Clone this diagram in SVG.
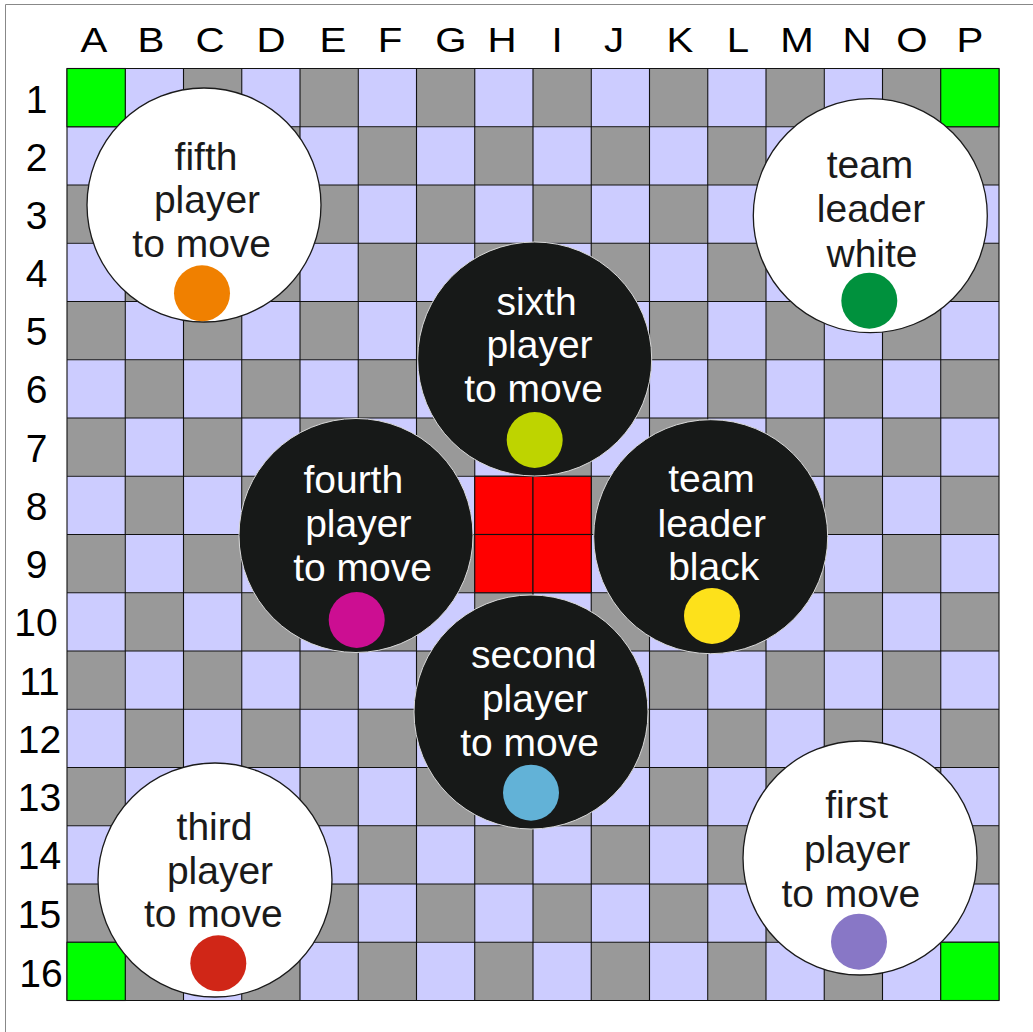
<svg xmlns="http://www.w3.org/2000/svg" width="1033" height="1032" viewBox="0 0 1033 1032">
<style>
text{font-family:"Liberation Sans",Arial,Helvetica,sans-serif;}
.lab{font-size:39px;fill:#000;text-anchor:middle;}
.col{font-size:35px;fill:#000;text-anchor:middle;}
.wc{fill:#ffffff;stroke:#1a1a1a;stroke-width:1.3;}
.bc{fill:#171918;stroke:#d8d8d8;stroke-width:1;}
.tw{font-size:39px;fill:#1a1a1a;text-anchor:middle;}
.tb{font-size:39px;fill:#ffffff;text-anchor:middle;}
.grid{stroke:#111;stroke-width:1.1;fill:none;}
.corner{fill:#00ff00;stroke:#111;stroke-width:1.1;}
.red{fill:#ff0000;stroke:#111;stroke-width:1.1;}
</style>
<defs>
<pattern id="chk" patternUnits="userSpaceOnUse" x="67" y="68.5" width="116.5" height="116.5">
<rect x="0" y="0" width="58.25" height="58.25" fill="#999999"/>
<rect x="58.25" y="0" width="58.25" height="58.25" fill="#ccccff"/>
<rect x="0" y="58.25" width="58.25" height="58.25" fill="#ccccff"/>
<rect x="58.25" y="58.25" width="58.25" height="58.25" fill="#999999"/>
</pattern>
</defs>
<rect x="0" y="0" width="1033" height="1032" fill="#ffffff"/>
<path d="M5.5 1032 V4.5 H1033" fill="none" stroke="#888" stroke-width="1"/>
<g id="col-labels">
<text class="col" transform="translate(94,51.5) scale(1.15,1)">A</text>
<text class="col" transform="translate(151,51.5) scale(1.15,1)">B</text>
<text class="col" transform="translate(210,51.5) scale(1.15,1)">C</text>
<text class="col" transform="translate(271,51.5) scale(1.15,1)">D</text>
<text class="col" transform="translate(333,51.5) scale(1.15,1)">E</text>
<text class="col" transform="translate(390,51.5) scale(1.15,1)">F</text>
<text class="col" transform="translate(451,51.5) scale(1.15,1)">G</text>
<text class="col" transform="translate(502,51.5) scale(1.15,1)">H</text>
<text class="col" transform="translate(557,51.5) scale(1.15,1)">I</text>
<text class="col" transform="translate(614,51.5) scale(1.15,1)">J</text>
<text class="col" transform="translate(680,51.5) scale(1.15,1)">K</text>
<text class="col" transform="translate(738,51.5) scale(1.15,1)">L</text>
<text class="col" transform="translate(797,51.5) scale(1.15,1)">M</text>
<text class="col" transform="translate(857,51.5) scale(1.15,1)">N</text>
<text class="col" transform="translate(912,51.5) scale(1.15,1)">O</text>
<text class="col" transform="translate(970,51.5) scale(1.15,1)">P</text>
</g>
<g id="row-labels">
<text class="lab" x="36.5" y="113">1</text>
<text class="lab" x="36.5" y="170.5">2</text>
<text class="lab" x="36.5" y="228.6">3</text>
<text class="lab" x="36.5" y="286.9">4</text>
<text class="lab" x="36.5" y="345.1">5</text>
<text class="lab" x="36.5" y="403.4">6</text>
<text class="lab" x="36.5" y="461.6">7</text>
<text class="lab" x="36.5" y="519.9">8</text>
<text class="lab" x="36.5" y="578.1">9</text>
<text class="lab" x="36" y="636.4">10</text>
<text class="lab" x="39.5" y="694.6">11</text>
<text class="lab" x="39.5" y="752.9">12</text>
<text class="lab" x="39.5" y="811.1">13</text>
<text class="lab" x="39.5" y="869.4">14</text>
<text class="lab" x="39.5" y="928">15</text>
<text class="lab" x="41" y="987">16</text>
</g>
<g id="board">
<rect x="67" y="68.5" width="932" height="932" fill="url(#chk)"/>
<path class="grid" d="M67 68.5V1000.5M125.25 68.5V1000.5M183.5 68.5V1000.5M241.75 68.5V1000.5M300 68.5V1000.5M358.25 68.5V1000.5M416.5 68.5V1000.5M474.75 68.5V1000.5M533 68.5V1000.5M591.25 68.5V1000.5M649.5 68.5V1000.5M707.75 68.5V1000.5M766 68.5V1000.5M824.25 68.5V1000.5M882.5 68.5V1000.5M940.75 68.5V1000.5M999 68.5V1000.5M67 68.5H999M67 126.75H999M67 185H999M67 243.25H999M67 301.5H999M67 359.75H999M67 418H999M67 476.25H999M67 534.5H999M67 592.75H999M67 651H999M67 709.25H999M67 767.5H999M67 825.75H999M67 884H999M67 942.25H999M67 1000.5H999"/>
<rect class="corner" x="67" y="68.5" width="58.25" height="58.25"/>
<rect class="corner" x="940.75" y="68.5" width="58.25" height="58.25"/>
<rect class="corner" x="67" y="942.25" width="58.25" height="58.25"/>
<rect class="corner" x="940.75" y="942.25" width="58.25" height="58.25"/>
<rect class="red" x="474.75" y="476.25" width="58.25" height="58.25"/>
<rect class="red" x="533" y="476.25" width="58.25" height="58.25"/>
<rect class="red" x="474.75" y="534.5" width="58.25" height="58.25"/>
<rect class="red" x="533" y="534.5" width="58.25" height="58.25"/>
</g>
<g id="connectors"/>
<g id="fifth-player">
<circle class="wc" cx="204" cy="205" r="117"/>
<text class="tw" x="206" y="170">fifth</text>
<text class="tw" x="207" y="213.3">player</text>
<text class="tw" x="201.7" y="256.7">to move</text>
<circle cx="202" cy="293.3" r="28" fill="#f08000"/>
</g>
<g id="team-leader-white">
<circle class="wc" cx="870.3" cy="215.7" r="117"/>
<text class="tw" x="870" y="178.3">team</text>
<text class="tw" x="871" y="221.7">leader</text>
<text class="tw" x="872" y="266.7">white</text>
<circle cx="869.3" cy="300.7" r="28" fill="#00913d"/>
</g>
<g id="sixth-player">
<circle class="bc" cx="534.7" cy="359" r="117"/>
<text class="tb" x="536.5" y="315">sixth</text>
<text class="tb" x="539.5" y="358.3">player</text>
<text class="tb" x="533.5" y="401.7">to move</text>
<circle cx="534.7" cy="440" r="28" fill="#bed400"/>
</g>
<g id="fourth-player">
<circle class="bc" cx="356" cy="535.5" r="117"/>
<text class="tb" x="353.3" y="492.7">fourth</text>
<text class="tb" x="358.3" y="536.7">player</text>
<text class="tb" x="362.5" y="580.7">to move</text>
<circle cx="356.7" cy="620" r="28" fill="#cc0e92"/>
</g>
<g id="team-leader-black">
<circle class="bc" cx="710.7" cy="536.7" r="117"/>
<text class="tb" x="711.5" y="491.7">team</text>
<text class="tb" x="711.7" y="536.7">leader</text>
<text class="tb" x="713.7" y="580">black</text>
<circle cx="712" cy="616" r="28" fill="#fde11b"/>
</g>
<g id="second-player">
<circle class="bc" cx="531" cy="712" r="117"/>
<text class="tb" x="533.8" y="668.3">second</text>
<text class="tb" x="535" y="711.7">player</text>
<text class="tb" x="529.5" y="756">to move</text>
<circle cx="531" cy="792.7" r="28" fill="#62b2d7"/>
</g>
<g id="third-player">
<circle class="wc" cx="215" cy="880" r="117"/>
<text class="tw" x="214.5" y="840">third</text>
<text class="tw" x="220" y="884">player</text>
<text class="tw" x="213.3" y="927.3">to move</text>
<circle cx="218.3" cy="963.3" r="28" fill="#d02617"/>
</g>
<g id="first-player">
<circle class="wc" cx="860" cy="858" r="117"/>
<text class="tw" x="856.7" y="818.3">first</text>
<text class="tw" x="857.2" y="863.3">player</text>
<text class="tw" x="850.8" y="906.7">to move</text>
<circle cx="859" cy="941.7" r="28" fill="#8877c6"/>
</g>
</svg>
